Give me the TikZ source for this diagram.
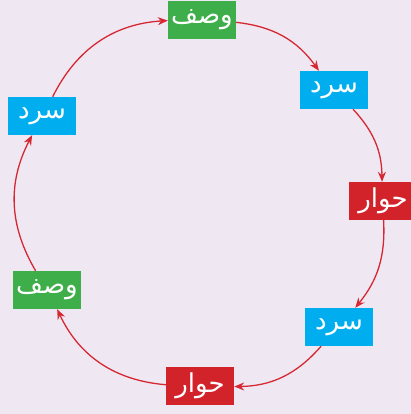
\documentclass[tikz,border=0pt]{standalone}
\usepackage{fontspec}
\usetikzlibrary{arrows.meta}
\TeXXeTstate=1
\newfontfamily\arabicfont[Script=Arabic]{DejaVu Sans}
\definecolor{bgpurple}{RGB}{239,232,243}
\definecolor{boxgreen}{RGB}{61,174,73}
\definecolor{boxcyan}{RGB}{0,174,239}
\definecolor{boxred}{RGB}{210,35,42}
\definecolor{arrowred}{RGB}{214,40,50}

\begin{document}
\begin{tikzpicture}[x=1pt, y=-1pt,
    word/.style={minimum width=68pt, minimum height=38pt, inner sep=0pt,
        text=white, font=\arabicfont\fontsize{26}{30}\selectfont},
    flow/.style={arrowred, line width=1.3pt, -{Stealth[length=10pt,width=8pt]}}]

    \fill [bgpurple] (0,0) rectangle (411,414);
    \useasboundingbox (0,0) rectangle (411,414);

    \node [word, fill=boxgreen] (wasfTop) at (202,20) {\beginR وصف\endR};
    \node [word, fill=boxcyan] (sardRight) at (334,90) {\beginR سرد\endR};
    \node [word, fill=boxred] (hiwarRight) at (383,201) {\beginR حوار\endR};
    \node [word, fill=boxcyan] (sardLow) at (339,327) {\beginR سرد\endR};
    \node [word, fill=boxred] (hiwarBottom) at (200,386) {\beginR حوار\endR};
    \node [word, fill=boxgreen] (wasfLeft) at (47,290) {\beginR وصف\endR};
    \node [word, fill=boxcyan] (sardLeft) at (42,116) {\beginR سرد\endR};

    \draw [flow] (wasfTop) to[bend left=24] (sardRight);
    \draw [flow] (sardRight) to[bend left=21] (hiwarRight);
    \draw [flow] (hiwarRight) to[bend left=21] (sardLow);
    \draw [flow] (sardLow) to[bend left=24] (hiwarBottom);
    \draw [flow] (hiwarBottom) to[bend left=30] (wasfLeft);
    \draw [flow] (wasfLeft) to[bend left=29] (sardLeft);
    \draw [flow] (sardLeft) to[bend left=30] (wasfTop);

\end{tikzpicture}
\end{document}
